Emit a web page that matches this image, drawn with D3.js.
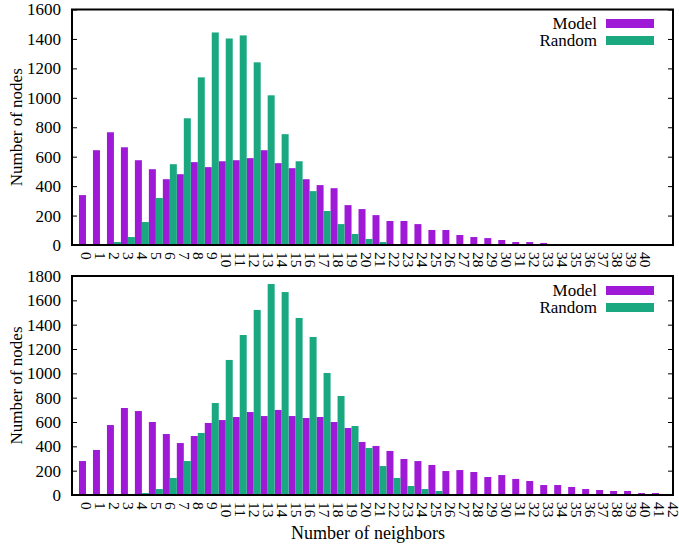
<!DOCTYPE html>
<html>
<head>
<meta charset="utf-8">
<script src="https://cdn.jsdelivr.net/npm/d3@7"></script>
<style>
  html, body { margin: 0; padding: 0; background: #fff; }
  svg { display: block; }
  text { font-family: "Liberation Serif", "Times New Roman", serif; fill: #000; }
</style>
</head>
<body>
<svg id="chart" width="679" height="546"></svg>
<script>
// ---------- data ----------
const seriesNames = ["Model", "Random"];
const topCategories = d3.range(0, 41);      // 0..40
const topModel = [339,644,766,664,576,515,447,481,563,529,569,576,590,644,556,522,447,407,386,271,244,203,163,163,142,102,102,68,54,47,34,20,20,14,7,4,3,3,2,2,3];
const topRandom = [0,0,20,54,156,319,549,861,1139,1444,1403,1424,1241,1017,753,569,366,231,142,75,41,20,3,0,0,0,0,0,0,0,0,0,0,0,0,0,0,0,0,0,0];
const topYTicks = [0,200,400,600,800,1000,1200,1400,1600];

const bottomCategories = d3.range(0, 43);   // 0..42
const bottomModel = [279,370,575,715,690,600,501,427,485,592,616,641,682,649,699,649,633,641,600,551,436,403,362,296,279,247,197,205,189,148,164,132,115,82,82,66,49,41,33,33,16,16,0];
const bottomRandom = [0,0,0,0,16,49,140,279,510,756,1110,1315,1521,1734,1668,1455,1299,1003,814,567,386,238,140,74,49,33,2,0,0,0,0,0,0,0,0,0,0,0,0,0,0,0,0];
const bottomYTicks = [0,200,400,600,800,1000,1200,1400,1600,1800];

const yTitle = "Number of nodes";
const xTitle = "Number of neighbors";

// ---------- style ----------
const colors = ["#9f1ad7", "#1aa881"];
const FONT = 17;
const left = 72, right = 673;

const svg = d3.select("#chart");

function panel(cfg) {
  const g = svg.append("g");
  const x = d3.scaleLinear().domain([-1, 42]).range([left, right]);
  const y = d3.scaleLinear().domain([0, cfg.ymax]).range([cfg.bottom, cfg.top]);
  const series = [cfg.model, cfg.random];

  // bars
  series.forEach((vals, s) => {
    g.append("g").selectAll("rect")
      .data(cfg.categories)
      .join("rect")
      .attr("x", d => x(d - 0.5 + s * 0.5))
      .attr("width", d => x(d + s * 0.5) - x(d - 0.5 + s * 0.5))
      .attr("y", (d, i) => y(vals[i]))
      .attr("height", (d, i) => y(0) - y(vals[i]))
      .attr("fill", colors[s]);
  });

  // y axis left
  const ya = g.append("g")
    .attr("transform", `translate(${left},0)`)
    .call(d3.axisLeft(y).tickValues(cfg.yticks).tickFormat(d3.format("d"))
      .tickSizeInner(-5).tickSizeOuter(0).tickPadding(11));
  ya.select(".domain").remove();
  ya.selectAll(".tick line").attr("stroke", "#000").attr("stroke-width", 1);
  ya.selectAll("text").style("font-size", FONT + "px").attr("font-family", null);

  // y axis right (mirror ticks)
  const yr = g.append("g")
    .attr("transform", `translate(${right},0)`)
    .call(d3.axisRight(y).tickValues(cfg.yticks).tickSizeInner(-5).tickSizeOuter(0).tickFormat(""));
  yr.select(".domain").remove();
  yr.selectAll(".tick line").attr("stroke", "#000").attr("stroke-width", 1);

  // x axis labels (rotated)
  const xa = g.append("g")
    .attr("transform", `translate(0,${cfg.bottom})`)
    .call(d3.axisBottom(x).tickValues(cfg.categories).tickSize(0).tickFormat(d3.format("d")));
  xa.select(".domain").remove();
  xa.selectAll("text")
    .attr("y", 0)
    .attr("x", 7)
    .attr("dy", "0.33em")
    .attr("transform", "rotate(90)")
    .attr("text-anchor", "start")
    .attr("font-family", null)
    .style("font-size", "15.5px");

  // frame
  g.append("rect")
    .attr("x", left).attr("y", cfg.top)
    .attr("width", right - left).attr("height", cfg.bottom - cfg.top)
    .attr("fill", "none").attr("stroke", "#000").attr("stroke-width", 2);

  // y title
  g.append("text")
    .attr("transform", `translate(16,${(cfg.top + cfg.bottom) / 2}) rotate(-90)`)
    .attr("text-anchor", "middle")
    .attr("dy", "0.35em")
    .style("font-size", FONT + "px")
    .text(yTitle);

  // legend
  const lg = g.append("g");
  seriesNames.forEach((name, s) => {
    const cy = cfg.legendY + s * 17;
    lg.append("text")
      .attr("x", 597).attr("y", cy).attr("dy", "0.33em")
      .attr("text-anchor", "end")
      .style("font-size", FONT + "px")
      .text(name);
    lg.append("rect")
      .attr("x", 606).attr("y", cy - 4.5)
      .attr("width", 48).attr("height", 9)
      .attr("fill", colors[s]);
  });
}

panel({ top: 9.5, bottom: 245, ymax: 1600, yticks: topYTicks, categories: topCategories,
        model: topModel, random: topRandom, legendY: 23.5 });
panel({ top: 276, bottom: 495, ymax: 1800, yticks: bottomYTicks, categories: bottomCategories,
        model: bottomModel, random: bottomRandom, legendY: 290.5 });

svg.append("text")
  .attr("x", 368).attr("y", 539)
  .attr("text-anchor", "middle")
  .style("font-size", "18px")
  .text(xTitle);
</script>
</body>
</html>
